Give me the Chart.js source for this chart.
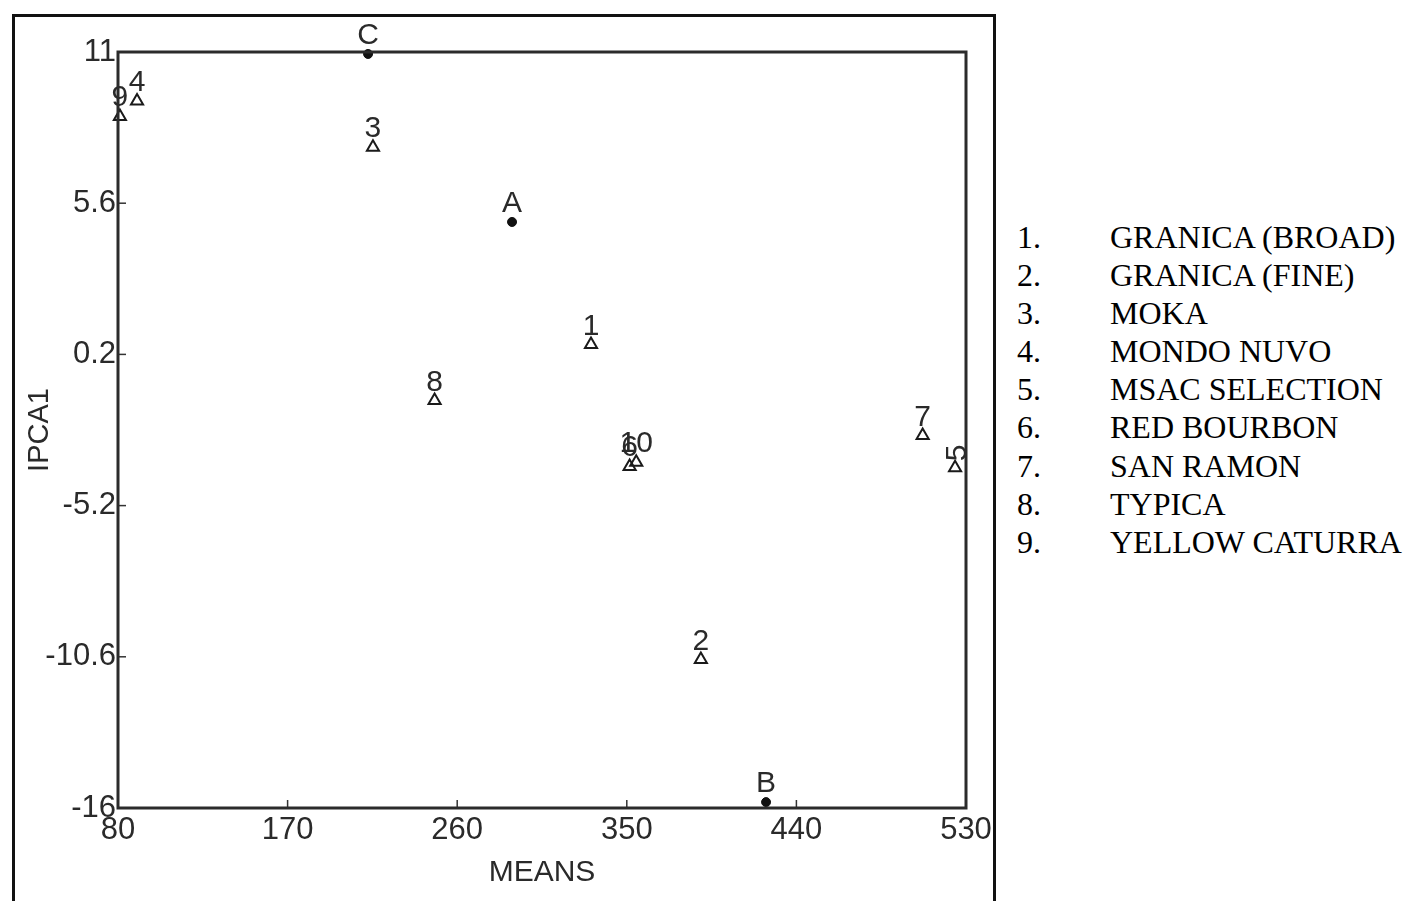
<!DOCTYPE html>
<html>
<head>
<meta charset="utf-8">
<script src="https://cdn.jsdelivr.net/npm/chart.js@4.4.0/dist/chart.umd.min.js"></script>
<style>
  html, body { margin: 0; padding: 0; background: #fff; width: 1407px; height: 901px; overflow: hidden; }
  #wrap { position: absolute; left: 0; top: 0; width: 1000px; height: 901px; }
  #frame { position: absolute; left: 12px; top: 14px; width: 978px; height: 900px; border: 3px solid #111; pointer-events: none; }
  #legend { position: absolute; left: 1017px; top: 218px; font-family: "Liberation Serif", "Times New Roman", serif; font-size: 32px; color: #000; }
  #legend .row { position: relative; height: 38.1px; line-height: 38.1px; white-space: nowrap; }
  #legend .num { position: absolute; left: 0; }
  #legend .name { position: absolute; left: 93px; }
</style>
</head>
<body>
<div id="wrap"><canvas id="c" width="1000" height="901"></canvas></div>
<div id="frame"></div>
<div id="legend"></div>
<script>
// ---- data ----
const genotypeIds   = ['1', '2', '3', '4', '5', '6', '7', '8', '9', '10'];
const genotypeMeans = [331, 389.3, 215.3, 90.1, 524.2, 351.5, 507, 248, 81, 355];
const genotypeIPCA1 = [0.55, -10.7, 7.6, 9.25, -3.85, -3.8, -2.7, -1.45, 8.7, -3.65];

const envIds   = ['A', 'B', 'C'];
const envMeans = [289.1, 423.9, 212.7];
const envIPCA1 = [4.93, -15.79, 10.93];

const xTickValues = [80, 170, 260, 350, 440, 530];
const xTickLabels = ['80', '170', '260', '350', '440', '530'];
const yTickValues = [11, 5.6, 0.2, -5.2, -10.6, -16];
const yTickLabels = ['11', '5.6', '0.2', '-5.2', '-10.6', '-16'];

const legendNumbers = ['1.', '2.', '3.', '4.', '5.', '6.', '7.', '8.', '9.'];
const legendNames = ['GRANICA (BROAD)', 'GRANICA (FINE)', 'MOKA', 'MONDO NUVO', 'MSAC SELECTION',
                     'RED BOURBON', 'SAN RAMON', 'TYPICA', 'YELLOW CATURRA'];

// ---- legend (HTML text) ----
const lg = document.getElementById('legend');
legendNames.forEach((n, i) => {
  const r = document.createElement('div');
  r.className = 'row';
  r.innerHTML = '<span class="num">' + legendNumbers[i] + '</span><span class="name">' + n + '</span>';
  lg.appendChild(r);
});

const axisFont = "'Liberation Sans', Arial, sans-serif";
const textColor = '#2a2a2a';

const labelPlugin = {
  id: 'pointLabels',
  afterDatasetsDraw(chart) {
    const ctx = chart.ctx;
    ctx.save();
    ctx.font = "30px " + axisFont;
    ctx.fillStyle = textColor;
    ctx.textAlign = 'center';
    ctx.textBaseline = 'alphabetic';
    chart.data.datasets.forEach((ds, di) => {
      const meta = chart.getDatasetMeta(di);
      meta.data.forEach((el, i) => {
        const txt = ds.pointLabels[i];
        if (txt === '5') {
          ctx.save();
          ctx.translate(el.x + 3, el.y - 15);
          ctx.rotate(-Math.PI / 2);
          ctx.textBaseline = 'middle';
          ctx.textAlign = 'center';
          ctx.fillText(txt, 0, 0);
          ctx.restore();
        } else {
          ctx.fillText(txt, el.x, el.y - 10);
        }
      });
    });
    ctx.restore();
  }
};

const framePlugin = {
  id: 'plotFrame',
  afterDraw(chart) {
    const {ctx, chartArea: a, scales} = chart;
    ctx.save();
    ctx.strokeStyle = '#333';
    ctx.lineWidth = 1.5;
    xTickValues.forEach(v => {
      const px = scales.x.getPixelForValue(v);
      ctx.beginPath(); ctx.moveTo(px, a.bottom); ctx.lineTo(px, a.bottom - 8); ctx.stroke();
    });
    yTickValues.forEach(v => {
      const py = scales.y.getPixelForValue(v);
      ctx.beginPath(); ctx.moveTo(a.left, py); ctx.lineTo(a.left + 8, py); ctx.stroke();
    });
    ctx.lineWidth = 3;
    ctx.strokeStyle = '#2b2b2b';
    ctx.strokeRect(a.left, a.top, a.right - a.left, a.bottom - a.top);
    ctx.restore();
  }
};

new Chart(document.getElementById('c'), {
  type: 'scatter',
  data: {
    datasets: [
      {
        label: 'Genotypes',
        data: genotypeMeans.map((x, i) => ({x: x, y: genotypeIPCA1[i]})),
        pointLabels: genotypeIds,
        pointStyle: 'triangle',
        pointRadius: 7,
        pointHoverRadius: 7,
        borderColor: '#1a1a1a',
        backgroundColor: 'rgba(255,255,255,0)',
        borderWidth: 2
      },
      {
        label: 'Environments',
        data: envMeans.map((x, i) => ({x: x, y: envIPCA1[i]})),
        pointLabels: envIds,
        pointStyle: 'circle',
        pointRadius: 4.5,
        pointHoverRadius: 4.5,
        borderColor: '#111',
        backgroundColor: '#111',
        borderWidth: 1
      }
    ]
  },
  options: {
    responsive: false,
    animation: false,
    devicePixelRatio: 1,
    clip: false,
    layout: { padding: { top: 52, right: 34, bottom: 0, left: 0 } },
    plugins: { legend: { display: false }, tooltip: { enabled: false } },
    scales: {
      x: {
        type: 'linear',
        min: 80, max: 530,
        afterFit(s) { s.height = 93; },
        afterBuildTicks(s) { s.ticks = xTickValues.map(v => ({value: v})); },
        grid: { display: false, drawTicks: false },
        border: { display: false },
        ticks: {
          padding: 4,
          color: textColor,
          font: { family: axisFont, size: 31 },
          maxRotation: 0,
          autoSkip: false,
          callback: (v, i) => xTickLabels[i]
        },
        title: {
          display: true, text: 'MEANS', color: textColor,
          font: { family: axisFont, size: 30 },
          padding: { top: 0, bottom: 10 }
        }
      },
      y: {
        type: 'linear',
        min: -16, max: 11,
        afterFit(s) { s.width = 118; },
        afterBuildTicks(s) { s.ticks = yTickValues.map(v => ({value: v})); },
        grid: { display: false, drawTicks: false },
        border: { display: false },
        ticks: {
          padding: 2,
          color: textColor,
          font: { family: axisFont, size: 31 },
          autoSkip: false,
          callback: (v, i) => yTickLabels[i]
        },
        title: {
          display: true, text: 'IPCA1', color: textColor,
          font: { family: axisFont, size: 29 },
          padding: { top: 23, bottom: 23 }
        }
      }
    }
  },
  plugins: [labelPlugin, framePlugin]
});
</script>
</body>
</html>
